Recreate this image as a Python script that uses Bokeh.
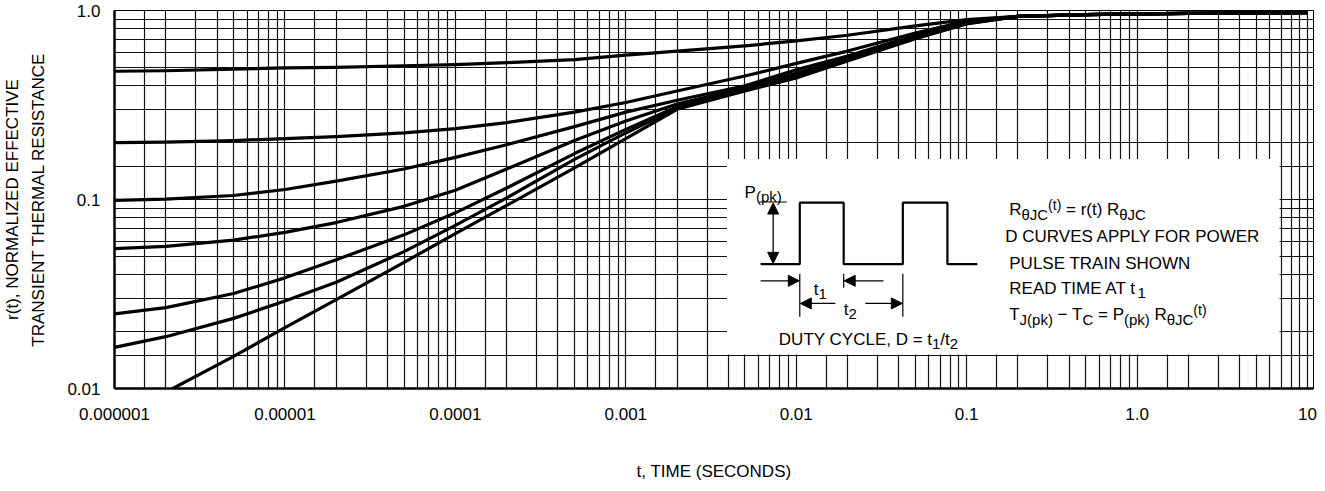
import math
from bokeh.plotting import figure
from bokeh.models import (FixedTicker, Range1d, Arrow, NormalHead, ColumnDataSource,
                          CustomJSTickFormatter)
from bokeh.embed import file_html
from bokeh.resources import INLINE
from bokeh.core.properties import value

# ---------------- data ----------------
t_std = [1e-6, 2e-6, 5e-6, 1e-5, 2e-5, 5e-5, 1e-4, 2e-4, 5e-4, 1e-3, 2e-3, 5e-3,
         1e-2, 2e-2, 5e-2, 0.1, 0.2, 0.5, 1, 2, 5, 10]
r_d050 = [0.477, 0.48, 0.49, 0.497, 0.50, 0.51, 0.517, 0.53, 0.55, 0.58, 0.61, 0.65,
          0.69, 0.74, 0.83, 0.895, 0.93, 0.95, 0.96, 0.965, 0.97, 0.975]
r_d020 = [0.20, 0.201, 0.205, 0.21, 0.215, 0.225, 0.237, 0.255, 0.29, 0.326, 0.375, 0.45,
          0.525, 0.61, 0.76, 0.88, 0.93, 0.95, 0.96, 0.965, 0.97, 0.975]
r_d010 = [0.099, 0.1005, 0.105, 0.113, 0.125, 0.145, 0.167, 0.195, 0.243, 0.29, 0.335, 0.40,
          0.485, 0.575, 0.74, 0.87, 0.93, 0.95, 0.96, 0.965, 0.97, 0.975]
r_d005 = [0.055, 0.0565, 0.061, 0.067, 0.0755, 0.092, 0.112, 0.145, 0.205, 0.26, 0.32, 0.39,
          0.465, 0.56, 0.73, 0.865, 0.93, 0.95, 0.96, 0.965, 0.97, 0.975]
r_d002 = [0.0248, 0.0268, 0.0318, 0.0385, 0.048, 0.065, 0.085, 0.115, 0.175, 0.235, 0.31, 0.385,
          0.455, 0.55, 0.72, 0.86, 0.93, 0.95, 0.96, 0.965, 0.97, 0.975]
r_d001 = [0.0165, 0.0188, 0.0235, 0.029, 0.0365, 0.053, 0.073, 0.102, 0.163, 0.225, 0.305, 0.38,
          0.445, 0.545, 0.715, 0.855, 0.93, 0.95, 0.96, 0.965, 0.97, 0.975]
t_single = [2.2e-6, 5e-6, 1e-5, 2e-5, 5e-5, 1e-4, 2e-4, 5e-4, 1e-3, 2e-3, 5e-3,
            1e-2, 2e-2, 5e-2, 0.1, 0.2, 0.5, 1, 2, 5, 10]
r_single = [0.01, 0.0148, 0.021, 0.0295, 0.0465, 0.066, 0.093, 0.147, 0.21, 0.30, 0.375,
            0.44, 0.54, 0.71, 0.85, 0.93, 0.95, 0.96, 0.965, 0.97, 0.975]

x_tick_vals = [1e-6, 1e-5, 1e-4, 1e-3, 1e-2, 1e-1, 1.0, 10.0]
x_tick_labels = ["0.000001", "0.00001", "0.0001", "0.001", "0.01", "0.1", "1.0", "10"]
y_tick_vals = [0.01, 0.1, 1.0]
y_tick_labels = ["0.01", "0.1", "1.0"]
grid_mults = [1, 1.5, 2, 3, 4, 5, 6, 7, 8, 9]

x_label = "t, TIME (SECONDS)"
y_label = "r(t), NORMALIZED EFFECTIVE\nTRANSIENT THERMAL RESISTANCE"

# ---------------- layout ----------------
FONT = "Liberation Sans"
W_FIG, H_FIG = 1317, 483
BL, BR, BT, BB = 111, 4, 10, 94
PAGE = 8
FRAME_L = PAGE + BL
FRAME_T = PAGE + BT
frame_w = W_FIG - BL - BR
frame_h = H_FIG - BT - BB
DEC_PX = 170.86
X_LO_EXP = -6.0
X_HI_EXP = X_LO_EXP + frame_w / DEC_PX

p = figure(width=W_FIG, height=H_FIG, x_axis_type="log", y_axis_type="log",
           x_range=Range1d(10 ** X_LO_EXP, 10 ** X_HI_EXP), y_range=Range1d(0.01, 1.0),
           output_backend="svg", toolbar_location=None,
           min_border_left=BL, min_border_right=BR, min_border_top=BT, min_border_bottom=BB)
p.background_fill_color = "white"
p.border_fill_color = "white"
p.outline_line_color = "black"
p.outline_line_width = 1

grid_x = [m * 10.0 ** k for k in range(-6, 2) for m in grid_mults]
grid_y = [m * 10.0 ** k for k in range(-2, 1) for m in grid_mults]
p.xgrid.ticker = FixedTicker(ticks=grid_x)
p.ygrid.ticker = FixedTicker(ticks=grid_y)
for g in (p.xgrid, p.ygrid):
    g.grid_line_color = "#111111"
    g.grid_line_width = 1.2
    g.grid_line_alpha = 1.0

fmt_code = """
for (let i = 0; i < vals.length; i++) {
  if (Math.abs(Math.log10(tick) - Math.log10(vals[i])) < 1e-6) return labs[i];
}
return '';
"""
xa = p.xaxis[0]
ya = p.yaxis[0]
xa.ticker = FixedTicker(ticks=x_tick_vals)
ya.ticker = FixedTicker(ticks=y_tick_vals)
xa.formatter = CustomJSTickFormatter(args=dict(vals=x_tick_vals, labs=x_tick_labels), code=fmt_code)
ya.formatter = CustomJSTickFormatter(args=dict(vals=y_tick_vals, labs=y_tick_labels), code=fmt_code)
for ax in (xa, ya):
    ax.axis_line_color = "black"
    ax.axis_line_width = 2.5
    ax.major_tick_line_color = None
    ax.minor_tick_line_color = None
    ax.major_label_text_font = FONT
    ax.major_label_text_font_size = "17px"
    ax.major_label_text_color = "black"
    ax.axis_label_text_font = FONT
    ax.axis_label_text_font_size = "17px"
    ax.axis_label_text_font_style = "normal"
    ax.axis_label_text_color = "black"
xa.axis_label = x_label
ya.axis_label = y_label
ya.axis_label_text_line_height = 1.38
xa.major_label_standoff = 13
xa.axis_label_standoff = 39
ya.major_label_standoff = 8
ya.axis_label_standoff = 16


def X(px):
    return 10 ** (X_LO_EXP + (px - FRAME_L) / DEC_PX)


def Y(py):
    return 10 ** (-(py - FRAME_T) / frame_h * 2.0)


# inset white box (covers grid)
p.quad(left=[X(733)], right=[X(1287)], top=[Y(167)], bottom=[Y(363)],
       fill_color="white", line_color=None)

# curves
for rr in (r_d050, r_d020, r_d010, r_d005, r_d002, r_d001):
    p.line(t_std, rr, line_color="black", line_width=3.2, line_join="round")
p.line(t_single, r_single, line_color="black", line_width=3.2, line_join="round")

# ---------------- inset schematic ----------------
base_y, top_y = 272.3, 210.7
pulse_px = [766.7, 806, 806, 850, 850, 909.3, 909.3, 954, 954, 984]
pulse_py = [base_y, base_y, top_y, top_y, base_y, base_y, top_y, top_y, base_y, base_y]
p.line([X(v) for v in pulse_px], [Y(v) for v in pulse_py], line_color="black", line_width=2.2)
p.segment(x0=[X(765)], y0=[Y(210)], x1=[X(793)], y1=[Y(210)], line_color="black", line_width=1.2)
p.segment(x0=[X(806), X(850), X(909.3)], y0=[Y(282), Y(282), Y(282)],
          x1=[X(806), X(850), X(909.3)], y1=[Y(325), Y(296), Y(325)],
          line_color="black", line_width=1.2)


def head():
    return NormalHead(size=11, fill_color="black", line_color="black", line_width=1)


p.add_layout(Arrow(start=head(), end=head(), x_start=X(779.3), y_start=Y(211), x_end=X(779.3),
                   y_end=Y(271.5), line_width=1.3))
for xs, xe, yy in ((766.7, 805.5, 289), (890, 850.5, 289), (841.7, 806.5, 311.7), (871.7, 908.8, 311.7)):
    p.add_layout(Arrow(end=head(), x_start=X(xs), y_start=Y(yy), x_end=X(xe), y_end=Y(yy),
                       line_width=1.3))

# ---------------- rich texts ----------------
CW = {' ': 278, '(': 333, ')': 333, ',': 278, '-': 333, '.': 278, '/': 278, '=': 584,
      '\u2212': 584, '\u03b8': 556, 'A': 667, 'B': 667, 'C': 722, 'D': 722, 'E': 667, 'F': 611,
      'G': 778, 'H': 722, 'I': 278, 'J': 500, 'K': 667, 'L': 556, 'M': 833, 'N': 722, 'O': 778,
      'P': 667, 'Q': 778, 'R': 722, 'S': 667, 'T': 611, 'U': 722, 'V': 667, 'W': 944, 'X': 667,
      'Y': 667, 'Z': 611, 'a': 556, 'c': 500, 'e': 556, 'i': 222, 'k': 500, 'p': 556, 'r': 333,
      't': 278}
MODES = {'n': (17, 0.0), 's': (15, 4.5), 'u': (14, -4.5)}
rows = dict(x=[], y=[], text=[], size=[])


def text_w(s, size):
    return sum(CW.get(ch, 556) for ch in s) / 1000.0 * size


def rich(px, base, segs):
    cur = px
    for s, mode in segs:
        size, dy = MODES[mode]
        lead = len(s) - len(s.lstrip(' '))
        body = s.strip(' ')
        if body:
            rows['x'].append(X(cur + text_w(' ' * lead, size)))
            rows['y'].append(Y(base + dy))
            rows['text'].append(body)
            rows['size'].append(f"{size}px")
        cur += text_w(s, size)


rich(750.7, 200, [("P", 'n'), ("(pk)", 's')])
rich(820, 298, [("t", 'n'), ("1", 's')])
rich(850, 318, [("t", 'n'), ("2", 's')])
rich(785, 348, [("DUTY CYCLE, D = t", 'n'), ("1", 's'), ("/t", 'n'), ("2", 's')])
rich(1016, 218, [("R", 'n'), ("\u03b8JC", 's'), ("(t)", 'u'), (" = r(t) R", 'n'), ("\u03b8JC", 's')])
rich(1012, 245, [("D CURVES APPLY FOR POWER", 'n')])
rich(1016, 272, [("PULSE TRAIN SHOWN", 'n')])
rich(1016, 297, [("READ TIME AT t", 'n'), ("1", 's')])
rich(1016, 323, [("T", 'n'), ("J(pk)", 's'), (" \u2212 T", 'n'), ("C", 's'), (" = P", 'n'),
                 ("(pk)", 's'), (" R", 'n'), ("\u03b8JC", 's'), ("(t)", 'u')])

p.text(x="x", y="y", text="text", text_font_size="size", source=ColumnDataSource(rows),
       text_font=value(FONT), text_color="black", text_align="left", text_baseline="alphabetic")

open("out.html", "w").write(file_html(p, INLINE))
